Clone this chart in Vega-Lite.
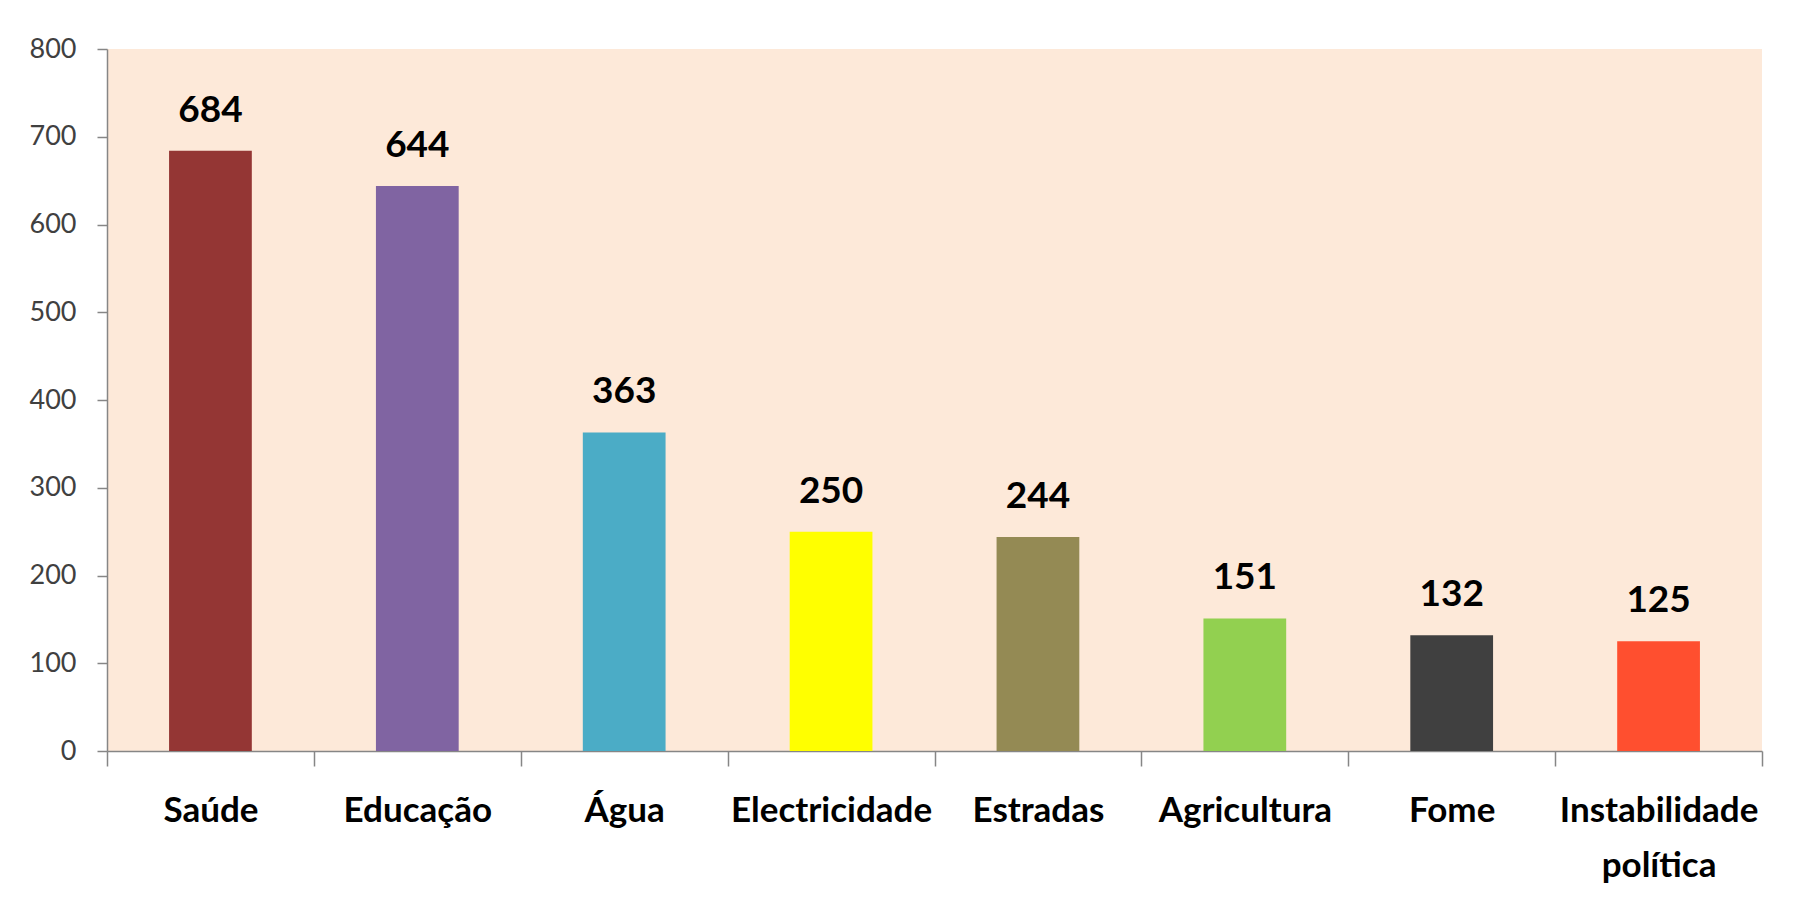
{
  "$schema": "https://vega.github.io/schema/vega-lite/v6.json",
  "autosize": {"type": "none"},
  "padding": {"left": 107, "top": 49, "right": 34, "bottom": 163},
  "width": 1655,
  "height": 702,
  "background": "#FFFFFF",
  "config": {
    "view": {"fill": "#FDE9D9", "stroke": null},
    "font": "Lato"
  },
  "data": {
    "values": [
      {"categoria": "Saúde", "valor": 684, "cor": "#943634"},
      {"categoria": "Educação", "valor": 644, "cor": "#8064A2"},
      {"categoria": "Água", "valor": 363, "cor": "#4BACC6"},
      {"categoria": "Electricidade", "valor": 250, "cor": "#FFFF00"},
      {"categoria": "Estradas", "valor": 244, "cor": "#948A54"},
      {"categoria": "Agricultura", "valor": 151, "cor": "#92D050"},
      {"categoria": "Fome", "valor": 132, "cor": "#404040"},
      {"categoria": "Instabilidade política", "valor": 125, "cor": "#FF4F2F"}
    ]
  },
  "encoding": {
    "x": {
      "field": "categoria",
      "type": "nominal",
      "sort": null,
      "scale": {"paddingInner": 0, "paddingOuter": 0},
      "axis": {
        "title": null,
        "labelAngle": 0,
        "labelFont": "Lato",
        "labelFontSize": 35,
        "labelFontWeight": "bold",
        "labelColor": "#000000",
        "labelPadding": 27,
        "labelLineHeight": 55,
        "labelLimit": 0,
        "labelExpr": "datum.label == 'Instabilidade política' ? ['Instabilidade', 'política'] : datum.label",
        "tickBand": "extent",
        "tickSize": 15,
        "tickColor": "#868686",
        "tickWidth": 1.5,
        "domainColor": "#868686",
        "domainWidth": 1.5
      }
    },
    "y": {
      "field": "valor",
      "type": "quantitative",
      "scale": {"domain": [0, 800], "nice": false},
      "axis": {
        "title": null,
        "values": [0, 100, 200, 300, 400, 500, 600, 700, 800],
        "grid": false,
        "labelFont": "Lato",
        "labelFontSize": 27,
        "labelColor": "#404040",
        "labelPadding": 21,
        "tickSize": 10,
        "tickColor": "#868686",
        "tickWidth": 1.5,
        "domainColor": "#868686",
        "domainWidth": 1.5
      }
    }
  },
  "layer": [
    {
      "mark": {"type": "bar", "width": {"band": 0.4}},
      "encoding": {
        "color": {"field": "cor", "type": "nominal", "scale": null, "legend": null}
      }
    },
    {
      "mark": {
        "type": "text",
        "font": "Lato",
        "fontSize": 37,
        "fontWeight": "bold",
        "color": "#000000",
        "baseline": "alphabetic",
        "dy": -29
      },
      "encoding": {
        "text": {"field": "valor", "type": "quantitative"}
      }
    }
  ]
}
